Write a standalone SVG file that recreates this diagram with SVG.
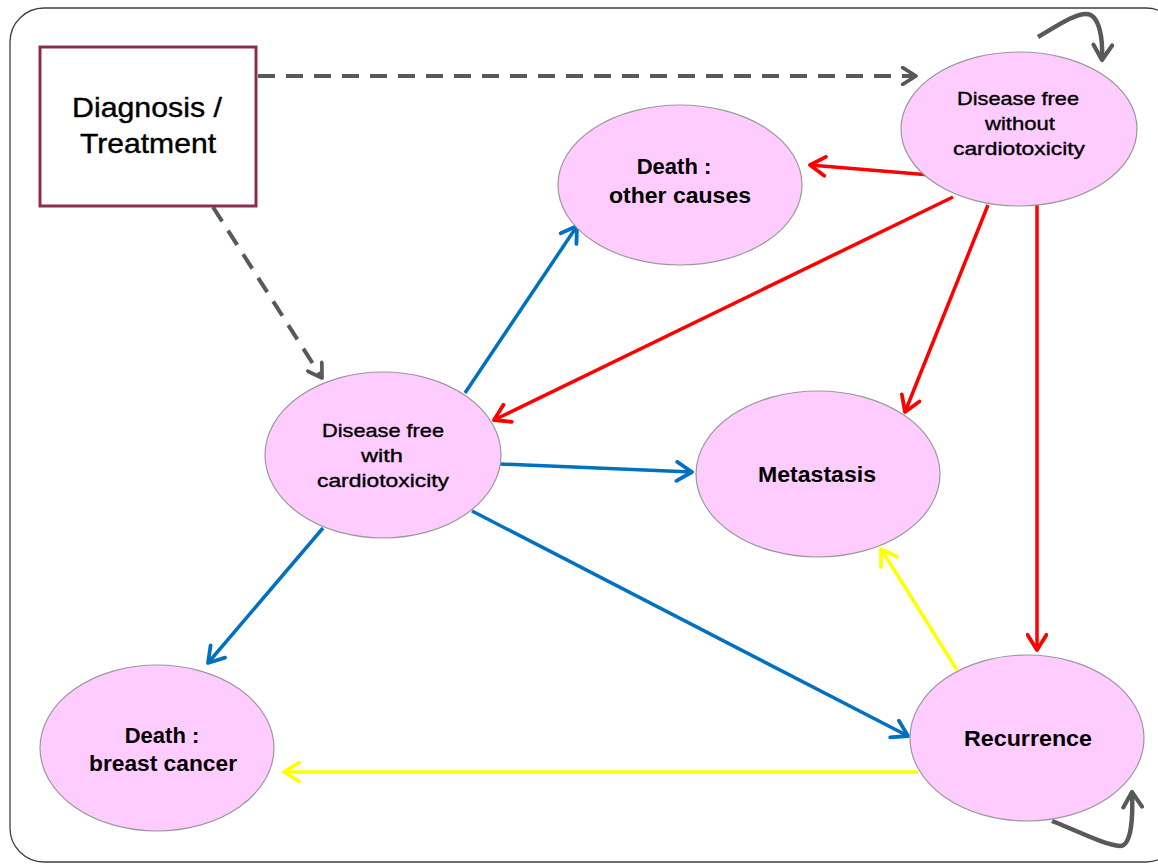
<svg xmlns="http://www.w3.org/2000/svg" width="1158" height="865" viewBox="0 0 1158 865">
<defs>
<style>
.node{fill:#FFCCFF;stroke:#999999;stroke-width:1.2}
.box{fill:#FFFFFF;stroke:#8B2D52;stroke-width:3}
.t{font-family:"Liberation Sans",Arial,sans-serif;fill:#000;text-anchor:middle}
.b{font-weight:bold;font-size:22px}
.s{font-size:18.5px;stroke:#000;stroke-width:0.35}
.dash{stroke:#595959;stroke-width:4;fill:none;stroke-dasharray:17,11}
.loop{stroke:#595959;stroke-width:4.5;fill:none}
.red{stroke:#FF0000;stroke-width:3.5;fill:none}
.blue{stroke:#0070C0;stroke-width:3.5;fill:none}
.yel{stroke:#FFFF00;stroke-width:3.5;fill:none}
</style>
<marker id="ag" viewBox="0 0 12 12" refX="10" refY="6" markerWidth="5" markerHeight="5" markerUnits="strokeWidth" orient="auto"><path d="M2,1 L10,6 L2,11" fill="none" stroke="#595959" stroke-width="2.2" stroke-linecap="round" stroke-linejoin="round"/></marker>
<marker id="ar" viewBox="0 0 12 12" refX="10" refY="6" markerWidth="6.5" markerHeight="6.5" markerUnits="strokeWidth" orient="auto"><path d="M2,1 L10,6 L2,11" fill="none" stroke="#FF0000" stroke-width="2" stroke-linecap="round" stroke-linejoin="round"/></marker>
<marker id="ab" viewBox="0 0 12 12" refX="10" refY="6" markerWidth="6.5" markerHeight="6.5" markerUnits="strokeWidth" orient="auto"><path d="M2,1 L10,6 L2,11" fill="none" stroke="#0070C0" stroke-width="2" stroke-linecap="round" stroke-linejoin="round"/></marker>
<marker id="ay" viewBox="0 0 12 12" refX="10" refY="6" markerWidth="6.5" markerHeight="6.5" markerUnits="strokeWidth" orient="auto"><path d="M2,1 L10,6 L2,11" fill="none" stroke="#FFFF00" stroke-width="2" stroke-linecap="round" stroke-linejoin="round"/></marker>
</defs>
<rect x="0" y="0" width="1158" height="865" fill="#FFFFFF"/>
<rect x="10" y="8" width="1170" height="854" rx="34" ry="34" fill="none" stroke="#404040" stroke-width="1.3"/>

<g id="connectors">
<path class="dash" d="M258,76 L916,76" marker-end="url(#ag)"/>
<path class="dash" d="M213,207 L322,378" marker-end="url(#ag)"/>
<path class="loop" d="M1038,37 C1060,24 1075,14 1086,14 C1100,14 1103,40 1102,60" marker-end="url(#ag)"/>
<path class="loop" d="M1052,821 C1080,832 1105,845 1120,846 C1132,846 1133,815 1132,792" marker-end="url(#ag)"/>
<path class="red" d="M930,175 L810,165" marker-end="url(#ar)"/>
<path class="red" d="M953,197 L494,420" marker-end="url(#ar)"/>
<path class="red" d="M988,205 L905,412" marker-end="url(#ar)"/>
<path class="red" d="M1037,205 L1037,650" marker-end="url(#ar)"/>
<path class="blue" d="M465,393 L577,226" marker-end="url(#ab)"/>
<path class="blue" d="M500,464 L692,472" marker-end="url(#ab)"/>
<path class="blue" d="M472,511 L908,736" marker-end="url(#ab)"/>
<path class="blue" d="M323,528 L208,663" marker-end="url(#ab)"/>
<path class="yel" d="M957,670 L881,549" marker-end="url(#ay)"/>
<path class="yel" d="M918,772 L284,772" marker-end="url(#ay)"/>
</g>

<g id="diagnosis">
<rect class="box" x="40" y="47" width="216" height="159"/>
<text class="t" x="147" y="117" font-size="28" stroke="#000" stroke-width="0.4" textLength="150" lengthAdjust="spacingAndGlyphs">Diagnosis /</text>
<text class="t" x="148" y="153" font-size="28" stroke="#000" stroke-width="0.4" textLength="136" lengthAdjust="spacingAndGlyphs">Treatment</text>
</g>

<g id="df-without">
<ellipse class="node" cx="1019" cy="129" rx="118" ry="77"/>
<text class="t s" x="1018" y="105" textLength="122" lengthAdjust="spacingAndGlyphs">Disease free</text>
<text class="t s" x="1020" y="130" textLength="70" lengthAdjust="spacingAndGlyphs">without</text>
<text class="t s" x="1019" y="155" textLength="132" lengthAdjust="spacingAndGlyphs">cardiotoxicity</text>
</g>

<g id="death-other">
<ellipse class="node" cx="680" cy="185" rx="122" ry="80"/>
<text class="t b" x="674" y="174">Death :</text>
<text class="t b" x="680" y="203" textLength="142" lengthAdjust="spacingAndGlyphs">other causes</text>
</g>

<g id="df-with">
<ellipse class="node" cx="383" cy="455" rx="118" ry="83"/>
<text class="t s" x="383" y="437" textLength="122" lengthAdjust="spacingAndGlyphs">Disease free</text>
<text class="t s" x="382" y="462" textLength="42" lengthAdjust="spacingAndGlyphs">with</text>
<text class="t s" x="383" y="487" textLength="132" lengthAdjust="spacingAndGlyphs">cardiotoxicity</text>
</g>

<g id="metastasis">
<ellipse class="node" cx="818" cy="474" rx="122" ry="83"/>
<text class="t b" x="817" y="482" textLength="118" lengthAdjust="spacingAndGlyphs">Metastasis</text>
</g>

<g id="recurrence">
<ellipse class="node" cx="1027" cy="738" rx="117" ry="83"/>
<text class="t b" x="1028" y="746" textLength="128" lengthAdjust="spacingAndGlyphs">Recurrence</text>
</g>

<g id="death-breast">
<ellipse class="node" cx="157" cy="748" rx="117" ry="83"/>
<text class="t b" x="162" y="743">Death :</text>
<text class="t b" x="163" y="771" textLength="148" lengthAdjust="spacingAndGlyphs">breast cancer</text>
</g>
</svg>
